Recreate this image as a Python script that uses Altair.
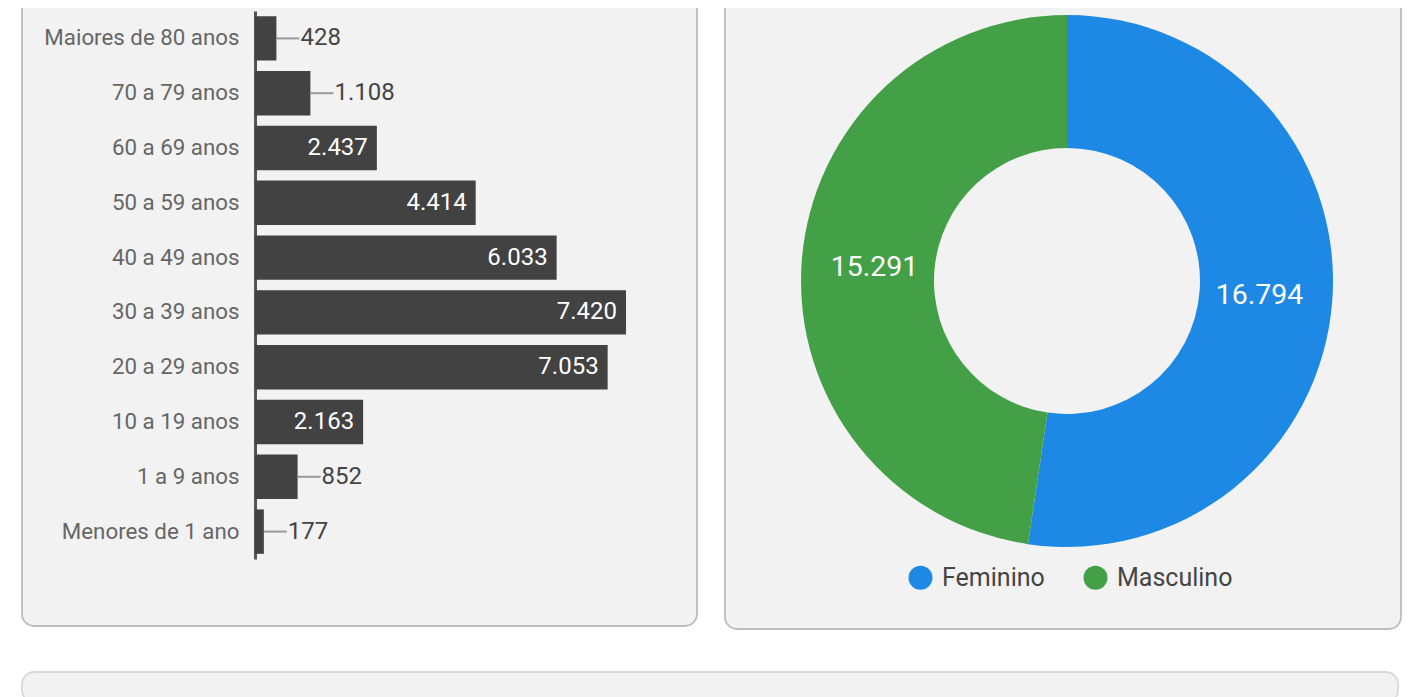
import altair as alt
import pandas as pd

# ---------------- data ----------------
age_groups = ["Maiores de 80 anos", "70 a 79 anos", "60 a 69 anos", "50 a 59 anos",
              "40 a 49 anos", "30 a 39 anos", "20 a 29 anos", "10 a 19 anos",
              "1 a 9 anos", "Menores de 1 ano"]
age_counts = [428, 1108, 2437, 4414, 6033, 7420, 7053, 2163, 852, 177]

sexes = ["Feminino", "Masculino"]
sex_counts = [16794, 15291]
sex_colors = ["#1e88e5", "#43a047"]


def fmt(v):
    return f"{v:,}".replace(",", ".")


age_df = pd.DataFrame({"faixa": age_groups, "casos": age_counts,
                       "rotulo": [fmt(v) for v in age_counts]})
sex_df = pd.DataFrame({"sexo": sexes, "casos": sex_counts,
                       "rotulo": [fmt(v) for v in sex_counts],
                       "ordem": list(range(len(sexes)))})

FONT = "Roboto"
card = dict(fill="#f2f2f2", stroke="#bdbdbd", strokeWidth=1.8, cornerRadius=12)
card_light = dict(fill="#f2f2f2", stroke="#d9d9d9", strokeWidth=1.8, cornerRadius=12)

# ---------------- bar card ----------------
y_enc = alt.Y("faixa:N", sort=age_groups,
              scale=alt.Scale(range=[22, 570], paddingInner=0.19, paddingOuter=0.095),
              axis=alt.Axis(title=None, offset=-233, ticks=False, domainColor="#555555",
                            domainWidth=3, labelFont=FONT, labelFontSize=22.3,
                            labelColor="#666666", labelPadding=16, labelLimit=400,
                            grid=False))
x_enc = alt.X("casos:Q", scale=alt.Scale(domain=[-4660, 8840], nice=False), axis=None)

base = alt.Chart(age_df).encode(y=y_enc, x=x_enc)
bars = base.mark_bar(color="#424242")
inside = base.transform_filter("datum.casos >= 2000").mark_text(
    align="right", baseline="middle", dx=-9, color="white", fontSize=24, font=FONT
).encode(text="rotulo:N")
leader = base.transform_filter("datum.casos < 2000").mark_rule(
    color="#999999", strokeWidth=2, x2Offset=23
).encode(x2="casos:Q")
outside = base.transform_filter("datum.casos < 2000").mark_text(
    align="left", baseline="middle", dx=24, color="#444444", fontSize=24, font=FONT
).encode(text="rotulo:N")

left = alt.layer(bars, inside, leader, outside).properties(
    width=675, height=637, view=alt.ViewBackground(**card))

# ---------------- donut card ----------------
arcs = alt.Chart(sex_df).mark_arc(radius=266, radius2=133, x=342, y=292).encode(
    theta=alt.Theta("casos:Q", stack=True),
    order=alt.Order("ordem:Q"),
    color=alt.Color("sexo:N", scale=alt.Scale(domain=sexes, range=sex_colors),
                    legend=alt.Legend(title=None, orient="none", legendX=886, legendY=576,
                                      direction="horizontal", symbolType="circle",
                                      symbolSize=576, symbolStrokeWidth=0,
                                      labelFont=FONT, labelFontSize=25,
                                      labelColor="#444444", labelOffset=9,
                                      columnPadding=38, padding=0)),
)
arc_labels = alt.Chart(sex_df).mark_text(
    radius=193, x=342, y=292, fontSize=28.5, font=FONT, color="white",
    align="center", baseline="middle"
).encode(
    theta=alt.Theta("casos:Q", stack=True),
    order=alt.Order("ordem:Q"),
    detail="sexo:N",
    text="rotulo:N",
)
right = alt.layer(arcs, arc_labels).properties(
    width=676, height=640, view=alt.ViewBackground(**card))

# ---------------- bottom card (partially visible) ----------------
bottom = alt.Chart(pd.DataFrame({"v": [0]})).mark_point(opacity=0).encode(
    x=alt.value(0), y=alt.value(0)
).properties(width=1376, height=30, view=alt.ViewBackground(**card_light))

chart = alt.vconcat(
    alt.hconcat(left, right, spacing=26),
    bottom,
    spacing=38,
).properties(
    padding={"left": 10, "top": -20, "right": 0, "bottom": 0},
    background="white",
).configure(font=FONT)

chart.save("out.html", embed_options={"renderer": "svg", "actions": False})
